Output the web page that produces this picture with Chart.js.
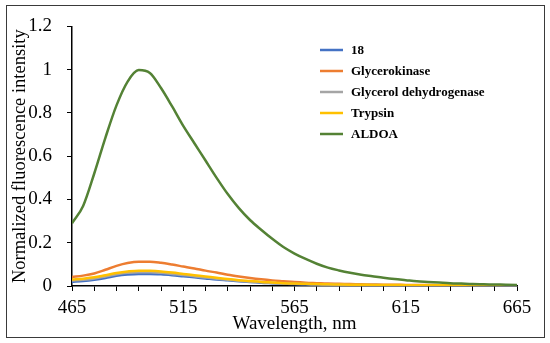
<!DOCTYPE html>
<html>
<head>
<meta charset="utf-8">
<script src="https://cdn.jsdelivr.net/npm/chart.js@4/dist/chart.umd.min.js"></script>
<style>
  html, body { margin: 0; padding: 0; background: #fff; }
</style>
</head>
<body>
<canvas id="chart_fluo" width="550" height="343"></canvas>
<script>
// wavelength, nm
const wavelengths = [465,470,475,480,485,490,495,500,505,510,515,520,525,530,535,540,545,550,555,560,
  565,570,575,580,585,590,595,600,605,610,615,620,625,630,635,640,645,650,655,660,665];

const series_names = ['18', 'Glycerokinase', 'Glycerol dehydrogenase', 'Trypsin', 'ALDOA'];

const value_18 = [0.019,0.023,0.029,0.037,0.047,0.053,0.056,0.056,0.054,0.05,0.045,0.04,0.035,0.03,0.026,0.022,0.018,0.015,0.013,0.011,
  0.009,0.008,0.007,0.006,0.005,0.005,0.004,0.004,0.004,0.003,0.003,0.003,0.003,0.003,0.002,0.002,0.002,0.002,0.002,0.002,0.002];
const value_gk = [0.042,0.048,0.058,0.075,0.093,0.106,0.112,0.112,0.107,0.099,0.09,0.081,0.071,0.062,0.052,0.044,0.037,0.031,0.026,0.022,
  0.018,0.015,0.013,0.011,0.01,0.009,0.008,0.007,0.006,0.006,0.005,0.005,0.005,0.004,0.004,0.004,0.004,0.003,0.003,0.003,0.003];
const value_gdh = [0.025,0.029,0.035,0.044,0.054,0.061,0.064,0.064,0.061,0.056,0.051,0.045,0.039,0.034,0.029,0.024,0.02,0.017,0.014,0.012,
  0.01,0.009,0.008,0.007,0.006,0.005,0.005,0.005,0.004,0.004,0.004,0.003,0.003,0.003,0.003,0.003,0.003,0.002,0.002,0.002,0.002];
const value_trypsin = [0.03,0.034,0.04,0.05,0.06,0.067,0.071,0.07,0.067,0.062,0.056,0.05,0.044,0.038,0.032,0.027,0.023,0.019,0.016,0.013,
  0.011,0.01,0.009,0.008,0.007,0.006,0.006,0.005,0.005,0.005,0.004,0.004,0.004,0.004,0.004,0.003,0.003,0.003,0.003,0.003,0.003];
const value_aldoa = [0.29,0.37,0.52,0.685,0.835,0.945,0.998,0.985,0.915,0.83,0.74,0.66,0.58,0.5,0.425,0.36,0.305,0.26,0.218,0.18,
  0.15,0.125,0.103,0.085,0.072,0.061,0.052,0.045,0.038,0.032,0.027,0.022,0.019,0.016,0.013,0.011,0.009,0.008,0.007,0.006,0.005];

const y_ticks = [0, 0.2, 0.4, 0.6, 0.8, 1, 1.2];
const x_labels = [465, 515, 565, 615, 665];

const colors = ['#4472C4', '#ED7D31', '#A5A5A5', '#FFC000', '#548235'];
const all_values = [value_18, value_gk, value_gdh, value_trypsin, value_aldoa];

const serif = '"Liberation Serif", "Times New Roman", serif';

function points(vals){
  return wavelengths.map((w, i) => ({x: w, y: vals[i]}));
}

// frame round the whole picture, white background
const frame_plugin = {
  id: 'frame_plugin',
  beforeDraw(chart){
    const ctx = chart.ctx;
    ctx.save();
    ctx.fillStyle = '#fff';
    ctx.fillRect(0, 0, chart.width, chart.height);
    ctx.restore();
  },
  afterDraw(chart){
    const ctx = chart.ctx;
    ctx.save();
    ctx.strokeStyle = '#3a3a3a';
    ctx.lineWidth = 1;
    ctx.strokeRect(6.5, 5.5, 538, 332);
    ctx.restore();
  }
};

// legend drawn inside plot area like excel
const legend_plugin = {
  id: 'legend_plugin',
  afterDraw(chart){
    const ctx = chart.ctx;
    ctx.save();
    ctx.font = 'bold 13px ' + serif;
    ctx.textBaseline = 'middle';
    chart.data.datasets.forEach((ds, i) => {
      let y = 50 + i * 21;
      ctx.strokeStyle = ds.borderColor;
      ctx.lineWidth = 2.5;
      ctx.beginPath();
      ctx.moveTo(320, y);
      ctx.lineTo(343, y);
      ctx.stroke();
      ctx.fillStyle = '#000';
      ctx.fillText(ds.label, 351, y + 1);
    });
    ctx.restore();
  }
};

const ctx = document.getElementById('chart_fluo').getContext('2d');
const chart = new Chart(ctx, {
  type: 'line',
  data: {
    datasets: series_names.map((name, i) => ({
      label: name,
      data: points(all_values[i]),
      borderColor: colors[i],
      backgroundColor: colors[i],
      borderWidth: 2.5,
      pointRadius: 0,
      fill: false,
      cubicInterpolationMode: 'monotone',
      order: 4 - i
    }))
  },
  options: {
    responsive: false,
    animation: false,
    devicePixelRatio: 1,
    layout: { padding: { left: 0, right: 33, top: 22, bottom: 0 } },
    plugins: {
      legend: { display: false },
      title: { display: false },
      tooltip: { enabled: false }
    },
    scales: {
      x: {
        type: 'linear',
        min: 465,
        max: 665,
        afterFit: s => { s.height = 57; },
        ticks: {
          stepSize: 10,
          autoSkip: false,
          maxRotation: 0,
          padding: 6,
          color: '#000',
          font: { family: serif, size: 19 },
          callback: v => x_labels.includes(v) ? String(v) : ''
        },
        grid: { drawOnChartArea: false, drawTicks: true, tickLength: 5, color: '#000', lineWidth: 1 },
        border: { color: '#000', width: 1.5 },
        title: {
          display: true,
          text: 'Wavelength, nm',
          color: '#000',
          font: { family: serif, size: 19 },
          padding: { top: 0, bottom: 8 }
        }
      },
      y: {
        min: 0,
        max: 1.2,
        afterFit: s => { s.width = 72; },
        afterBuildTicks: s => { s.ticks = y_ticks.map(v => ({value: v})); },
        ticks: {
          padding: 15,
          color: '#000',
          font: { family: serif, size: 19 },
          callback: v => String(Number(v.toFixed(1)))
        },
        grid: { drawOnChartArea: false, drawTicks: true, tickLength: 5, color: '#000', lineWidth: 1 },
        border: { color: '#000', width: 1.5 },
        title: {
          display: true,
          text: 'Normalized fluorescence intensity',
          color: '#000',
          font: { family: serif, size: 18.5 },
          padding: { top: 9, bottom: 0 }
        }
      }
    }
  },
  plugins: [frame_plugin, legend_plugin]
});
</script>
</body>
</html>
